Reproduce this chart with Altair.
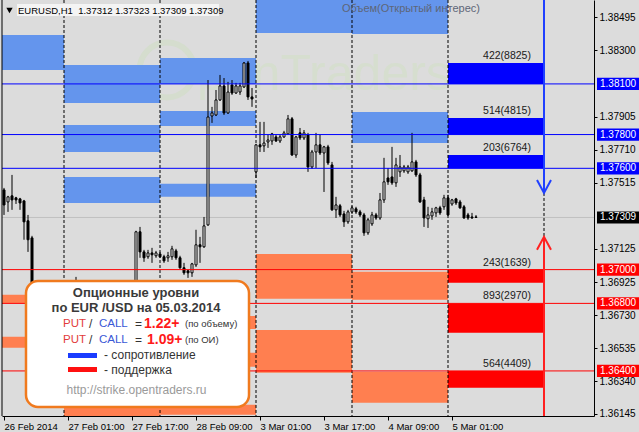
import altair as alt
import pandas as pd

FONT = "Liberation Sans"
BG = "#DCDCDC"
PLOT_W, PLOT_H = 592, 416

# ------------------------------------------------------------------ candles
# EURUSD H1; bar index 0 = 27 Feb 2014 00:00 (weekend hours are skipped)
bar_index = list(range(-15, 104))

opens = [
    # 26 Feb 09:00-23:00
    1.37472, 1.37401, 1.37437, 1.37425, 1.37419, 1.37407, 1.37289, 1.37188,
    1.36821, 1.36732, 1.36673, 1.36691, 1.36750, 1.36715, 1.36762,
    # 27 Feb
    1.36791, 1.36868, 1.36845, 1.36821, 1.36910, 1.36839, 1.36762, 1.36673,
    1.36584, 1.36513, 1.36596, 1.36555, 1.36673, 1.36732, 1.36791, 1.36750,
    1.36803, 1.36851, 1.36821, 1.37224, 1.37105, 1.37076, 1.37099, 1.37082,
    # 28 Feb
    1.37093, 1.37076, 1.37070, 1.37076, 1.37111, 1.37070, 1.37011, 1.36993,
    1.36981, 1.37028, 1.37147, 1.37135, 1.37265, 1.37910, 1.37916, 1.38005,
    1.38088, 1.37928, 1.38094, 1.38046, 1.38052, 1.38082, 1.38224, 1.38023,
    # 3 Mar
    1.37579, 1.37739, 1.37733, 1.37756, 1.37762, 1.37786, 1.37762, 1.37786,
    1.37804, 1.37893, 1.37679, 1.37810, 1.37780, 1.37798, 1.37608, 1.37697,
    1.37739, 1.37691, 1.37727, 1.37620, 1.37354, 1.37378, 1.37330, 1.37283,
    # 4 Mar
    1.37342, 1.37360, 1.37342, 1.37324, 1.37218, 1.37271, 1.37324, 1.37306,
    1.37413, 1.37543, 1.37549, 1.37514, 1.37579, 1.37585, 1.37579, 1.37585,
    1.37638, 1.37561, 1.37413, 1.37301, 1.37318, 1.37336, 1.37366, 1.37372,
    # 5 Mar
    1.37425, 1.37389, 1.37419, 1.37401, 1.37372, 1.37324, 1.37312, 1.37312,
]
highs = [
    1.37484, 1.37437, 1.37561, 1.37431, 1.37425, 1.37413, 1.37324, 1.37200,
    1.36851, 1.36791, 1.36715, 1.36762, 1.36791, 1.36774, 1.36821,
    1.36928, 1.36904, 1.36880, 1.36957, 1.36928, 1.36880, 1.36809, 1.36732,
    1.36643, 1.36614, 1.36655, 1.36703, 1.36762, 1.36821, 1.36833, 1.36821,
    1.36880, 1.36892, 1.37230, 1.37253, 1.37117, 1.37117, 1.37129, 1.37111,
    1.37105, 1.37088, 1.37105, 1.37141, 1.37123, 1.37082, 1.37040, 1.36999,
    1.37040, 1.37236, 1.37194, 1.37312, 1.38123, 1.37964, 1.38064, 1.38153,
    1.38135, 1.38112, 1.38123, 1.38106, 1.38106, 1.38230, 1.38236, 1.38076,
    1.37745, 1.37875, 1.37875, 1.37798, 1.37810, 1.37798, 1.37798, 1.37822,
    1.37916, 1.37904, 1.37792, 1.37839, 1.37827, 1.37810, 1.37709, 1.37810,
    1.37798, 1.37733, 1.37739, 1.37638, 1.37431, 1.37389, 1.37348, 1.37354,
    1.37378, 1.37372, 1.37354, 1.37336, 1.37306, 1.37342, 1.37336, 1.37454,
    1.37662, 1.37602, 1.37727, 1.37662, 1.37679, 1.37620, 1.37620, 1.37810,
    1.37650, 1.37573, 1.37431, 1.37372, 1.37366, 1.37372, 1.37378, 1.37443,
    1.37443, 1.37419, 1.37425, 1.37413, 1.37383, 1.37336, 1.37336, 1.37323,
]
lows = [
    1.37324, 1.37342, 1.37354, 1.37389, 1.37354, 1.37177, 1.37105, 1.36762,
    1.36703, 1.36643, 1.36614, 1.36655, 1.36691, 1.36673, 1.36715,
    1.36750, 1.36821, 1.36791, 1.36797, 1.36821, 1.36732, 1.36643, 1.36555,
    1.36465, 1.36484, 1.36525, 1.36537, 1.36614, 1.36673, 1.36715, 1.36691,
    1.36762, 1.36791, 1.36791, 1.37070, 1.37046, 1.37064, 1.37040, 1.37070,
    1.37070, 1.37040, 1.37046, 1.37058, 1.37058, 1.37005, 1.36969, 1.36951,
    1.36957, 1.37016, 1.37040, 1.37129, 1.37259, 1.37869, 1.37910, 1.37999,
    1.37916, 1.37922, 1.38035, 1.38041, 1.38035, 1.38076, 1.38005, 1.37964,
    1.37543, 1.37697, 1.37697, 1.37721, 1.37739, 1.37756, 1.37750, 1.37780,
    1.37798, 1.37674, 1.37662, 1.37768, 1.37768, 1.37579, 1.37597, 1.37602,
    1.37679, 1.37460, 1.37620, 1.37348, 1.37306, 1.37312, 1.37253, 1.37271,
    1.37330, 1.37330, 1.37312, 1.37200, 1.37206, 1.37259, 1.37295, 1.37295,
    1.37395, 1.37502, 1.37502, 1.37490, 1.37549, 1.37573, 1.37567, 1.37579,
    1.37549, 1.37395, 1.37253, 1.37247, 1.37295, 1.37312, 1.37324, 1.37354,
    1.37318, 1.37378, 1.37383, 1.37360, 1.37301, 1.37295, 1.37301, 1.37309,
]
closes = [
    1.37383, 1.37431, 1.37413, 1.37413, 1.37395, 1.37283, 1.37177, 1.36821,
    1.36732, 1.36673, 1.36691, 1.36750, 1.36715, 1.36762, 1.36791,
    1.36868, 1.36845, 1.36821, 1.36910, 1.36839, 1.36762, 1.36673, 1.36584,
    1.36513, 1.36596, 1.36555, 1.36673, 1.36732, 1.36791, 1.36750, 1.36803,
    1.36851, 1.36821, 1.37224, 1.37105, 1.37070, 1.37099, 1.37088, 1.37099,
    1.37076, 1.37052, 1.37082, 1.37123, 1.37070, 1.37011, 1.36981, 1.36981,
    1.37034, 1.37147, 1.37135, 1.37259, 1.37904, 1.37928, 1.38005, 1.38088,
    1.37928, 1.38052, 1.38046, 1.38088, 1.38088, 1.38224, 1.38023, 1.38011,
    1.37739, 1.37727, 1.37750, 1.37768, 1.37804, 1.37762, 1.37786, 1.37810,
    1.37893, 1.37679, 1.37786, 1.37780, 1.37810, 1.37608, 1.37697, 1.37739,
    1.37691, 1.37727, 1.37632, 1.37354, 1.37383, 1.37324, 1.37283, 1.37342,
    1.37366, 1.37342, 1.37324, 1.37218, 1.37295, 1.37324, 1.37306, 1.37413,
    1.37520, 1.37520, 1.37514, 1.37620, 1.37608, 1.37608, 1.37608, 1.37638,
    1.37561, 1.37401, 1.37306, 1.37324, 1.37342, 1.37366, 1.37336, 1.37425,
    1.37324, 1.37413, 1.37395, 1.37366, 1.37306, 1.37306, 1.37306, 1.37309,
]
assert len(bar_index) == len(opens) == len(highs) == len(lows) == len(closes)

# ------------------------------------------------------------------ axes
time_ticks = [-15, 1, 17, 33, 49, 65, 81, 97]
time_labels = ["26 Feb 2014", "27 Feb 01:00", "27 Feb 17:00", "28 Feb 09:00",
               "3 Mar 01:00", "3 Mar 17:00", "4 Mar 09:00", "5 Mar 01:00"]
price_ticks = [1.38495, 1.38300, 1.37905, 1.37710, 1.37515, 1.37125,
               1.36925, 1.36730, 1.36535, 1.36340, 1.36145]

# day separators (bar index of 00:00)
day_starts = [0, 24, 48, 72, 96]

# option zones of the previous sessions
zone_day = [-24, -24, -24, 0, 0, 0, 0, 0, 0, 24, 24, 24, 24, 24, 24,
            48, 48, 48, 72, 72, 72, 72]
zone_hi = [1.38390, 1.36851, 1.36602, 1.38212, 1.37857, 1.37549, 1.36821,
           1.36555, 1.36259, 1.38254, 1.37940, 1.37508, 1.36726, 1.36507,
           1.36199, 1.38700, 1.37093, 1.36643, 1.38700, 1.37934, 1.36987,
           1.36395]
zone_lo = [1.38183, 1.36803, 1.36537, 1.37987, 1.37697, 1.37395, 1.36715,
           1.36454, 1.36100, 1.38100, 1.37851, 1.37431, 1.36649, 1.36424,
           1.36140, 1.38402, 1.36827, 1.36389, 1.38396, 1.37750, 1.36821,
           1.36211]
zone_side = ["call", "put", "put", "call", "call", "call", "put", "put", "put",
             "call", "call", "call", "put", "put", "put", "call", "put", "put",
             "call", "call", "put", "put"]

# option levels for 05.03.2014: strike, far edge of the bar, volume(OI)
level_price = [1.38100, 1.37800, 1.37600, 1.37000, 1.36800, 1.36400]
level_edge = [1.38224, 1.37898, 1.37679, 1.36922, 1.36626, 1.36300]
level_text = ["422(8825)", "514(4815)", "203(6764)",
              "243(1639)", "893(2970)", "564(4409)"]
level_side = ["call", "call", "call", "put", "put", "put"]

# expected move arrows: tips of the down (blue) and up (red) arrows
arrow_bar = 120
arrow_down_tip = 1.37454
arrow_up_tip = 1.37194

ZONE_COLOR = {"call": "#6495ED", "put": "#FF7F50"}
LEVEL_COLOR = {"call": "#0000FF", "put": "#FF0000", "bid": "#000000"}

# ------------------------------------------------------------------ frames
candles = pd.DataFrame({"i": bar_index, "open": opens, "high": highs,
                        "low": lows, "close": closes})
zones = pd.DataFrame({"start": zone_day, "hi": zone_hi, "lo": zone_lo,
                      "side": zone_side})
zones["end"] = zones["start"] + 24
zones["col"] = zones["side"].map(ZONE_COLOR)
levels = pd.DataFrame({"price": level_price, "edge": level_edge,
                       "label": level_text, "side": level_side})
levels["start"] = day_starts[-1]
levels["end"] = day_starts[-1] + 24
levels["top"] = levels[["price", "edge"]].max(axis=1)
levels["col"] = levels["side"].map(LEVEL_COLOR)
last_close = closes[-1]
dummy = pd.DataFrame({"k": [0]})

xs = alt.Scale(domain=[-15.5, 132.5], nice=False, zero=False)
ys = alt.Scale(domain=[1.36133, 1.38597], nice=False, zero=False)

label_expr = " : ".join(
    f"datum.value == {v} ? '{t}'" for v, t in zip(time_ticks, time_labels)
) + " : ''"

x_axis = alt.Axis(values=time_ticks, labelExpr=label_expr, orient="bottom",
                  grid=False, tickSize=4, labelAlign="left", labelPadding=1,
                  labelFontSize=9.5, labelFlush=False, labelOverlap=False,
                  labelBound=False, title=None)
y_axis = alt.Axis(values=price_ticks, format=".5f", orient="right",
                  grid=False, tickSize=3, labelPadding=2, labelFontSize=10,
                  labelFlush=False, labelOverlap=False, labelBound=False,
                  title=None)


def X(field):
    return alt.X(field, type="quantitative", scale=xs, axis=x_axis)


def Y(field):
    return alt.Y(field, type="quantitative", scale=ys, axis=y_axis)


def hexcolor(field):
    return alt.Color(f"{field}:N", scale=None, legend=None)


layers = []

# faint watermark
layers.append(alt.Chart(dummy).mark_point(
    shape="circle", size=3000, filled=False, strokeWidth=6,
    color="#D5DDCE", opacity=1).encode(x=alt.value(165), y=alt.value(70)))
layers.append(alt.Chart(dummy).mark_text(
    text="penTraders", font=FONT, fontSize=50, color="#D6DECF",
    align="left", baseline="alphabetic").encode(x=alt.value(195), y=alt.value(90)))

# previous sessions' zones
layers.append(alt.Chart(zones).mark_rect(clip=True).encode(
    x=X("start"), x2=alt.X2("end"), y=Y("hi"), y2=alt.Y2("lo"),
    color=hexcolor("col")))

# current session's option bars
layers.append(alt.Chart(levels).mark_rect(clip=True).encode(
    x=X("start"), x2=alt.X2("end"), y=Y("price"), y2=alt.Y2("edge"),
    color=hexcolor("col")))

# bid line
layers.append(alt.Chart(pd.DataFrame({"p": [last_close]})).mark_rule(
    color="#C0C0C0", strokeWidth=1).encode(y=Y("p")))

# day separators
layers.append(alt.Chart(pd.DataFrame({"i": day_starts})).mark_rule(
    color="black", strokeDash=[3, 2], strokeWidth=1).encode(x=X("i")))

# candles
layers.append(alt.Chart(candles).mark_rule(color="black", strokeWidth=1).encode(
    x=X("i"), y=Y("low"), y2=alt.Y2("high")))
layers.append(alt.Chart(candles).transform_calculate(
    x0="datum.i - 0.25", x1="datum.i + 0.25").mark_rect(
    stroke="black", strokeWidth=1).encode(
    x=X("x0"), x2=alt.X2("x1"), y=Y("open"), y2=alt.Y2("close"),
    fill=alt.condition("datum.close >= datum.open",
                       alt.value("white"), alt.value("black"))))

# strike lines across the chart
layers.append(alt.Chart(levels).mark_rule(strokeWidth=1).encode(
    y=Y("price"), color=hexcolor("col")))

# arrows
arrows = pd.DataFrame({"i": [arrow_bar], "down": [arrow_down_tip],
                       "up": [arrow_up_tip]})
layers.append(alt.Chart(arrows).mark_rule(color="#2040FF", strokeWidth=2).encode(
    x=X("i"), y=Y("down"), y2=alt.value(0)))
layers.append(alt.Chart(arrows).mark_rule(color="#FF2020", strokeWidth=2).encode(
    x=X("i"), y=Y("up"), y2=alt.value(PLOT_H)))
layers.append(alt.Chart(arrows).mark_rule(color="black", strokeWidth=1,
                                          strokeDash=[3, 2]).encode(
    x=X("i"), y=Y("down"), y2=alt.Y2("up")))
layers.append(alt.Chart(arrows).mark_point(
    shape="M-1,-1.85L0,0L1,-1.85", size=196, filled=False, strokeWidth=2,
    color="#2040FF", opacity=1).encode(x=X("i"), y=Y("down")))
layers.append(alt.Chart(arrows).mark_point(
    shape="M-1,1.85L0,0L1,1.85", size=196, filled=False, strokeWidth=2,
    color="#FF2020", opacity=1).encode(x=X("i"), y=Y("up")))

# volume(OI) labels above each bar
layers.append(alt.Chart(levels).mark_text(
    font=FONT, fontSize=10.5, color="#1A1A1A", align="center",
    baseline="alphabetic", dy=-4).encode(
    x=alt.value(505), y=Y("top"), text="label:N"))

# highlighted prices on the right scale
tags = pd.DataFrame({"price": level_price + [last_close],
                     "kind": level_side + ["bid"]})
tags["col"] = tags["kind"].map(LEVEL_COLOR)
layers.append(alt.Chart(tags).transform_calculate(
    hi="datum.price + 0.00036", lo="datum.price - 0.00036").mark_rect(
    clip=False).encode(x=alt.value(595), x2=alt.value(637), y=Y("hi"),
                       y2=alt.Y2("lo"), color=hexcolor("col")))
layers.append(alt.Chart(tags).mark_text(
    font=FONT, fontSize=10, color="white", align="left",
    baseline="middle").encode(x=alt.value(598), y=Y("price"),
                              text=alt.Text("price:Q", format=".5f")))


def note(text, x, y, size=12, color="#333333", weight="normal",
         align="left"):
    return alt.Chart(dummy).mark_text(
        text=text, font=FONT, fontSize=size, color=color, fontWeight=weight,
        align=align, baseline="middle").encode(x=alt.value(x), y=alt.value(y))


# header
layers.append(alt.Chart(dummy).mark_rect(fill="#F4F4F4").encode(
    x=alt.value(15), x2=alt.value(217), y=alt.value(4), y2=alt.value(16)))
layers.append(alt.Chart(dummy).mark_point(
    shape="triangle-down", size=40, filled=True, color="black",
    opacity=1).encode(x=alt.value(7.5), y=alt.value(10.5)))
header = "EURUSD,H1\u00a0\u00a0{:.5f} {:.5f} {:.5f} {:.5f}".format(
    opens[-1], highs[-1], lows[-1], closes[-1])
layers.append(note(header, 16, 10.5, size=9.5, color="black"))
layers.append(note("Объем(Открытый интерес)", 409, 9, size=11,
                   color="#5E6678", align="center"))

# info box
layers.append(alt.Chart(dummy).mark_rect(
    fill="white", stroke="#F07A1E", strokeWidth=2.5, cornerRadius=12).encode(
    x=alt.value(24), x2=alt.value(247), y=alt.value(281), y2=alt.value(407)))
layers.append(note("Опционные уровни", 134, 293, size=13, color="#3A3A3A",
                   weight="bold", align="center"))
layers.append(note("по EUR /USD на 05.03.2014", 134, 308, size=13,
                   color="#3A3A3A", weight="bold", align="center"))
for row_y, ratio, ratio_x, note_text in [(323.5, "1.22+", 142, "(по объему)"),
                                         (339.5, "1.09+", 145, "(по ОИ)")]:
    layers.append(note("PUT", 61, row_y, size=11.5, color="#E23B3B"))
    layers.append(note("/", 87, row_y, size=12, color="#333333"))
    layers.append(note("CALL", 97, row_y, size=11.5, color="#3A58D6"))
    layers.append(note("=", 133, row_y, size=12, color="#333333"))
    layers.append(note(ratio, ratio_x, row_y, size=14, color="#FF1A1A",
                       weight="bold"))
    layers.append(note(note_text, 183, row_y + 0.5, size=9.5, color="#333333"))
layers.append(alt.Chart(dummy).mark_rect(fill="#1A3CFF").encode(
    x=alt.value(66), x2=alt.value(95), y=alt.value(353), y2=alt.value(358)))
layers.append(alt.Chart(dummy).mark_rect(fill="#FF1010").encode(
    x=alt.value(66), x2=alt.value(95), y=alt.value(367), y2=alt.value(372)))
layers.append(note("- сопротивление", 102, 355, size=12))
layers.append(note("- поддержка", 102, 369.5, size=12))
layers.append(note("http://strike.opentraders.ru", 134.5, 389.5, size=12,
                   color="#9A9A9A", align="center"))

# left border
layers.append(alt.Chart(dummy).mark_rule(color="black").encode(
    x=alt.value(0), y=alt.value(0), y2=alt.value(PLOT_H)))

chart = alt.layer(*layers).properties(
    width=PLOT_W, height=PLOT_H,
    padding={"left": 2, "right": 45, "top": 0, "bottom": 16},
    autosize=alt.AutoSizeParams(type="none"),
    background=BG,
).configure_view(stroke=None, fill=BG).configure_axis(
    labelFont=FONT, labelColor="black", domainColor="black",
    tickColor="black", domainWidth=1, tickWidth=1)

chart.save("out.html", embed_options={"renderer": "svg", "actions": False})
